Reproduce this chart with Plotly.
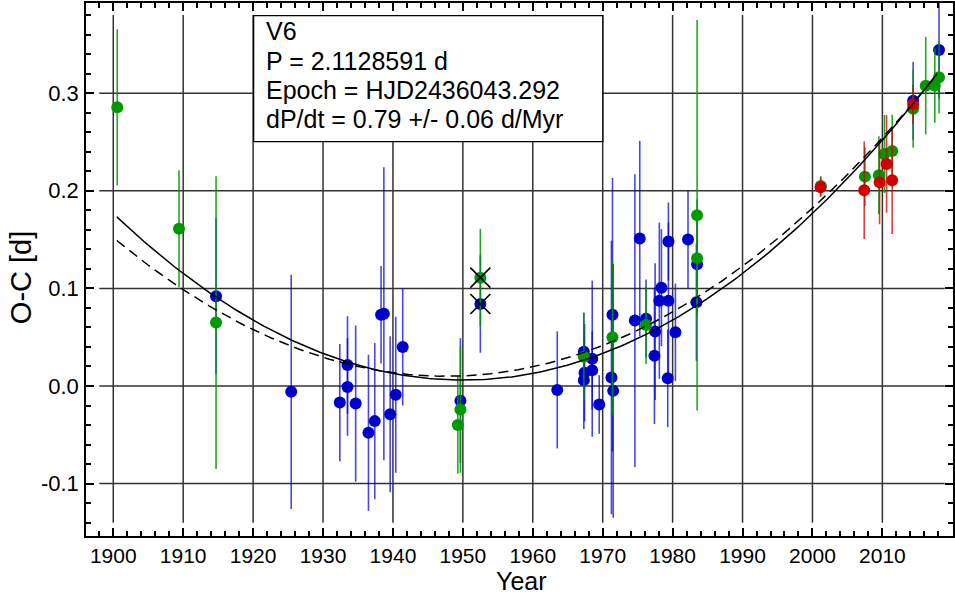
import plotly.graph_objects as go

# O-C timings of V6 grouped by source: epoch [yr], O-C [d], 1-sigma error [d]
blue_year = [1914.7, 1925.45, 1932.4, 1933.5, 1933.5, 1934.67, 1936.5, 1937.4,
             1938.3, 1938.7, 1939.6, 1940.4, 1941.4, 1949.65, 1952.5, 1963.5,
             1967.3, 1967.4, 1967.3, 1968.5, 1968.5, 1969.5, 1971.25, 1971.4,
             1971.5, 1974.6, 1975.3, 1976.2, 1977.5, 1977.4, 1978.1, 1978.4,
             1979.4, 1979.4, 1979.3, 1980.4, 1982.2, 1983.5, 1983.4, 2014.4,
             2018.1]
blue_oc = [0.092, -0.006, -0.017, 0.0215, -0.001, -0.018, -0.048, -0.036,
           0.073, 0.074, -0.029, -0.009, 0.040, -0.015, 0.084, -0.004,
           0.035, 0.0136, 0.006, 0.028, 0.016, -0.019, 0.0087, 0.073,
           -0.005, 0.067, 0.151, 0.069, 0.0557, 0.031, 0.0874, 0.1007,
           0.0874, 0.148, 0.0079, 0.055, 0.150, 0.1247, 0.0858, 0.2923,
           0.3443]
blue_err = [0.08, 0.12, 0.06, 0.05, 0.05, 0.08, 0.08, 0.08,
            0.05, 0.15, 0.08, 0.08, 0.06, 0.064, 0.05, 0.06,
            0.04, 0.05, 0.05, 0.08, 0.04, 0.03, 0.14, 0.14,
            0.13, 0.15, 0.10, 0.04, 0.07, 0.07, 0.08, 0.06,
            0.08, 0.04, 0.05, 0.05, 0.05, 0.05, 0.06, 0.04,
            0.05]

green_year = [1900.57, 1909.4, 1914.7, 1949.28, 1949.65, 1952.5, 1967.3, 1971.4,
              1976.2, 1983.5, 1983.5, 2001.2, 2007.5, 2009.5, 2010.3, 2011.4,
              2014.4, 2016.2, 2017.5, 2018.1]
green_oc = [0.2855, 0.161, 0.065, -0.040, -0.024, 0.111, 0.030, 0.050,
            0.0625, 0.175, 0.131, 0.205, 0.2145, 0.216, 0.2377, 0.2408,
            0.284, 0.3077, 0.3077, 0.3163]
green_err = [0.08, 0.06, 0.15, 0.05, 0.065, 0.05, 0.045, 0.08,
             0.04, 0.20, 0.06, 0.01, 0.03, 0.04, 0.04, 0.037,
             0.04, 0.05, 0.038, 0.037]

red_year = [2001.16, 2007.4, 2009.6, 2010.6, 2011.4, 2014.4]
red_oc = [0.2036, 0.2005, 0.2087, 0.2275, 0.2108, 0.2886]
red_err = [0.01, 0.05, 0.043, 0.05, 0.055, 0.02]

# timings rejected from the fit
rejected_year = [1952.5, 1952.5]
rejected_oc = [0.111, 0.084]

# ephemeris and period change
period_d = 2.1128591
dpdt_d_per_myr = 0.79
# quadratic ephemeris: vertex year, vertex O-C [d]
solid_vertex = [1950.0, 0.006]
# alternative fit: vertex year, vertex O-C [d], curvature [d/yr^2]
dashed_fit = [1947.6, 0.010, 6.27e-5]
fit_span = [1900.5, 2017.8]

x_tick_vals = [1900, 1910, 1920, 1930, 1940, 1950, 1960, 1970, 1980, 1990, 2000, 2010]
x_tick_text = [str(v) for v in x_tick_vals]
y_tick_vals = [-0.1, 0.0, 0.1, 0.2, 0.3]
y_tick_text = ["-0.1", "0.0", "0.1", "0.2", "0.3"]

box_lines = ["V6", "P = 2.1128591 d", "Epoch = HJD2436043.292",
             "dP/dt = 0.79 +/- 0.06 d/Myr"]

FONT = "Liberation Sans, Arial, Helvetica, sans-serif"
W, H = 955, 594
ML, MR, MT, MB = 86, 0, 3, 58
PW, PH = W - ML - MR, H - MT - MB


def px_x(px):
    return (px - ML) / PW


def px_y(py):
    return (H - MB - py) / PH


# curvature of O-C in d/yr^2 from dP/dt: 0.5 * (dP/dt)/P
c_solid = 0.5 * dpdt_d_per_myr * 365.25 / (1e6 * period_d)
n = 240
curve_t = [fit_span[0] + (fit_span[1] - fit_span[0]) * i / (n - 1) for i in range(n)]
solid_oc = [solid_vertex[1] + c_solid * (t - solid_vertex[0]) ** 2 for t in curve_t]
dashed_oc = [dashed_fit[1] + dashed_fit[2] * (t - dashed_fit[0]) ** 2 for t in curve_t]

fig = go.Figure()


def add_group(years, oc, err, color, bar_color):
    fig.add_trace(go.Scatter(
        x=years, y=oc, mode="markers",
        marker=dict(color=color, size=12, line=dict(width=0)),
        error_y=dict(type="data", array=err, visible=True, color=bar_color,
                     thickness=1.6, width=0),
        showlegend=False, hoverinfo="x+y"))


add_group(blue_year, blue_oc, blue_err, "#0000cc", "rgba(0,0,215,0.72)")
add_group(green_year, green_oc, green_err, "#009900", "rgba(0,150,0,0.85)")
add_group(red_year, red_oc, red_err, "#d00000", "rgba(210,0,0,0.75)")

fig.add_trace(go.Scatter(
    x=rejected_year, y=rejected_oc, mode="markers",
    marker=dict(symbol="x-thin", size=20, line=dict(color="black", width=1.6)),
    showlegend=False, hoverinfo="skip"))

fig.add_trace(go.Scatter(x=curve_t, y=solid_oc, mode="lines",
                         line=dict(color="black", width=1.5),
                         showlegend=False, hoverinfo="skip"))
fig.add_trace(go.Scatter(x=curve_t, y=dashed_oc, mode="lines",
                         line=dict(color="black", width=1.5, dash="10px,6px"),
                         showlegend=False, hoverinfo="skip"))

shapes = []
# grid lines stop short of the frame
for v in x_tick_vals:
    shapes.append(dict(type="line", xref="x", yref="paper", x0=v, x1=v,
                       y0=px_y(522.7), y1=px_y(15), layer="below",
                       line=dict(color="#333333", width=1.5)))
for v in y_tick_vals:
    shapes.append(dict(type="line", xref="paper", yref="y", x0=px_x(99.3),
                       x1=px_x(946.7), y0=v, y1=v, layer="below",
                       line=dict(color="#333333", width=1.5)))
# info box
shapes.append(dict(type="rect", xref="paper", yref="paper",
                   x0=px_x(254), x1=px_x(604), y0=px_y(141.7), y1=px_y(15.7),
                   fillcolor="white", layer="below",
                   line=dict(color="black", width=1.3)))

annotations = []
for i, txt in enumerate(box_lines):
    annotations.append(dict(text=txt, xref="paper", yref="paper",
                            x=px_x(264), y=px_y(31.5 + 29.3 * i),
                            xanchor="left", yanchor="middle", showarrow=False,
                            font=dict(family=FONT, size=25, color="black")))
annotations.append(dict(text="Year", xref="paper", yref="paper",
                        x=px_x(523), y=px_y(580.5), xanchor="center",
                        yanchor="middle", showarrow=False,
                        font=dict(family=FONT, size=25, color="black")))
annotations.append(dict(text="O-C [d]", xref="paper", yref="paper",
                        x=px_x(21), y=px_y(278), xanchor="center",
                        yanchor="middle", textangle=-90, showarrow=False,
                        font=dict(family=FONT, size=29, color="black")))

axis_common = dict(showline=True, linecolor="black", linewidth=1.5,
                   mirror="allticks", ticks="inside", ticklen=8, tickwidth=1.5,
                   tickcolor="black", showgrid=False, zeroline=False)

fig.update_layout(
    width=W, height=H,
    margin=dict(l=ML, r=MR, t=MT, b=MB, pad=0),
    paper_bgcolor="white", plot_bgcolor="white",
    xaxis=dict(range=[1896.1, 2020.1], tickmode="array", tickvals=x_tick_vals,
               ticktext=x_tick_text,
               tickfont=dict(family=FONT, size=21, color="black"),
               minor=dict(tick0=1896, dtick=2, ticks="inside", ticklen=5,
                          tickwidth=1.5, tickcolor="black", showgrid=False),
               **axis_common),
    yaxis=dict(range=[-0.1537, 0.3924], tickmode="array", tickvals=y_tick_vals,
               ticktext=y_tick_text, ticklabelstandoff=1,
               tickfont=dict(family=FONT, size=22, color="black"),
               minor=dict(tick0=0, dtick=0.02, ticks="inside", ticklen=5,
                          tickwidth=1.5, tickcolor="black", showgrid=False),
               **axis_common),
    shapes=shapes, annotations=annotations,
)

fig.write_html("out.html")
